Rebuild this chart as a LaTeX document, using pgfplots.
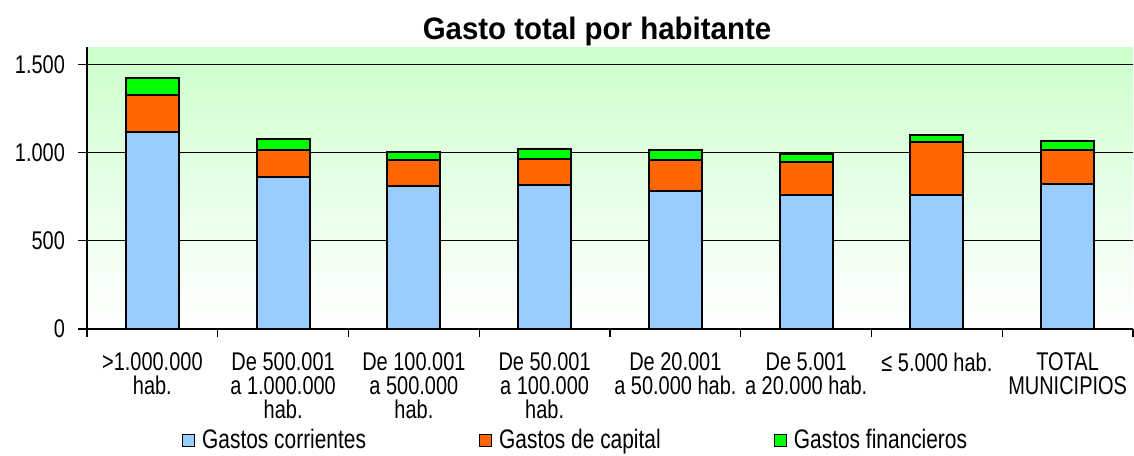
\documentclass[border=0pt]{standalone}
\usepackage{fontspec}
\setmainfont{Liberation Sans}
\newfontfamily\narrow{Liberation Sans}[FakeStretch=0.78]
\newfontfamily\titlefont{Liberation Sans}[FakeStretch=0.95]
\usepackage{pgfplots}
\pgfplotsset{compat=1.18}
\definecolor{gc}{HTML}{99CCFF}
\definecolor{gk}{HTML}{FF6600}
\definecolor{gf}{HTML}{00FF00}
\definecolor{bgtop}{HTML}{CCFFCC}
\begin{document}
\begin{tikzpicture}
\begin{axis}[
  scale only axis, width=523pt, height=141pt,
  xmin=-0.5, xmax=7.5, ymin=0, ymax=1600,
  ybar stacked, bar width=26.5pt,
  axis x line*=bottom, axis y line*=left,
  axis line style={-, black, line width=0.8pt},
  axis background/.style={top color=bgtop, bottom color=white},
  ymajorgrids, grid style={black, line width=0.5pt},
  ytick={0,500,1000,1500},
  yticklabel style={font=\narrow\fontsize{12.8}{14}\selectfont, /pgf/number format/1000 sep={.}, /pgf/number format/assume math mode=true, xshift=-3pt},
  xtick={0,...,7},
  xticklabels={{>1.000.000\\hab.},{De 500.001\\a 1.000.000\\hab.},{De 100.001\\a 500.000\\hab.},{De 50.001\\a 100.000\\hab.},{De 20.001\\a 50.000 hab.},{De 5.001\\a 20.000 hab.},{≤ 5.000 hab.},{TOTAL\\MUNICIPIOS}},
  minor xtick={-0.5,0.5,1.5,2.5,3.5,4.5,5.5,6.5,7.5},
  tick align=outside, major tick length=4.5pt, minor tick length=4pt,
  major x tick style={draw=none},
  tick style={black, line width=0.6pt},
  xticklabel style={align=center, font=\narrow\fontsize{12.8}{12}\selectfont, yshift=-4pt},
  title={Gasto total por habitante},
  title style={font=\titlefont\fontsize{15.5}{18}\selectfont\bfseries, at={(0.4876,1)}, anchor=base, yshift=-2.5pt},
  legend style={at={(0.468,-0.394)}, anchor=center, draw=none, fill=none, legend columns=3, font=\narrow\fontsize{13.4}{14}\selectfont,
    /tikz/every odd column/.append style={column sep=1.5pt},
    /tikz/every even column/.append style={column sep=54.5pt}},
  legend image code/.code={\draw[#1, draw=black, line width=0.6pt] (0pt,-3pt) rectangle (6pt,3pt);},
  every axis plot/.append style={draw=black, line width=1pt},
]
\addplot[fill=gc] coordinates {(0,1117) (1,865) (2,810) (3,818) (4,784) (5,761) (6,761) (7,825)};
\addplot[fill=gk] coordinates {(0,208) (1,149) (2,148) (3,148) (4,174) (5,189) (6,301) (7,188)};
\addplot[fill=gf] coordinates {(0,101) (1,63) (2,49) (3,56) (4,57) (5,44) (6,38) (7,51)};
\legend{Gastos corrientes, Gastos de capital, Gastos financieros}
\end{axis}
\pgfresetboundingbox
\path[use as bounding box] ([xshift=-43.5pt,yshift=-63pt]current axis.south west) rectangle ([xshift=0.5pt,yshift=23.5pt]current axis.north east);
\end{tikzpicture}
\end{document}
